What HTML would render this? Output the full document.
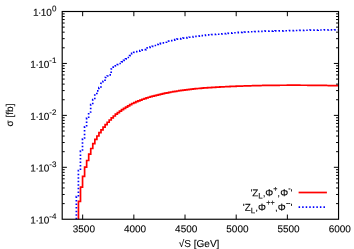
<!DOCTYPE html>
<html><head><meta charset="utf-8"><title>plot</title>
<style>
html,body{margin:0;padding:0;background:#fff;overflow:hidden;}
svg{display:block;will-change:transform;}
text{font-family:"Liberation Sans",sans-serif;font-size:10px;fill:#000;stroke:#000;stroke-width:0.1px;text-rendering:geometricPrecision;}
</style></head>
<body>
<svg width="354" height="249" viewBox="0 0 354 249">
<rect x="0" y="0" width="354" height="249" fill="#fff"/>
<path d="M78.45,219.25V201.40H80.50V187.20H82.55V176.40H84.60V167.10H86.65V160.50H88.70V154.10H90.74V148.50H92.79V143.70H94.84V139.40H96.89V136.00H98.94V132.60H100.99V129.93H103.04V127.22H105.09V124.64H107.14V122.24H109.19V120.00H111.23V117.92H113.28V115.99H115.33V114.21H117.38V112.57H119.43V111.06H121.48V109.65H123.53V108.32H125.58V107.04H127.63V105.78H129.68V104.58H131.72V103.52H133.77V102.59H135.82V101.72H137.87V100.87H139.92V100.04H141.97V99.26H144.02V98.55H146.07V97.89H148.12V97.27H150.17V96.68H152.21V96.12H154.26V95.58H156.31V95.07H158.36V94.57H160.41V94.10H162.46V93.64H164.51V93.21H166.56V92.79H168.61V92.40H170.66V92.02H172.70V91.66H174.75V91.31H176.80V90.98H178.85V90.67H180.90V90.37H182.95V90.09H185.00V89.82H187.05V89.57H189.10V89.33H191.15V89.10H193.19V88.89H195.24V88.68H197.29V88.49H199.34V88.31H201.39V88.14H203.44V87.97H205.49V87.82H207.54V87.67H209.59V87.54H211.64V87.40H213.68V87.28H215.73V87.16H217.78V87.05H219.83V86.94H221.88V86.83H223.93V86.73H225.98V86.63H228.03V86.54H230.08V86.45H232.13V86.36H234.17V86.28H236.22V86.20H238.27V86.13H240.32V86.05H242.37V85.98H244.42V85.92H246.47V85.86H248.52V85.80H250.57V85.74H252.62V85.69H254.66V85.64H256.71V85.59H258.76V85.55H260.81V85.50H262.86V85.47H264.91V85.43H266.96V85.40H269.01V85.37H271.06V85.34H273.11V85.32H275.15V85.30H277.20V85.28H279.25V85.26H281.30V85.25H283.35V85.24H285.40V85.23H287.45V85.22H289.50V85.22H291.55V85.22H293.60V85.22H295.64V85.22H297.69V85.22H299.74V85.23H301.79V85.24H303.84V85.25H305.89V85.26H307.94V85.28H309.99V85.30H312.04V85.32H314.08V85.34H316.13V85.36H318.18V85.38H320.23V85.41H322.28V85.44H324.33V85.47H326.38V85.50H328.43V85.53H330.48V85.57H332.53V85.60H334.57V85.64H336.62V85.68H338.55" fill="none" stroke="#ff0000" stroke-width="1.7" stroke-linejoin="miter"/>
<path d="M76.35,219.25V196.50H78.40V170.50H80.45V151.20H82.50V139.00H84.55V126.80H86.60V118.00H88.64V112.00H90.69V104.50H92.74V99.50H94.79V95.00H96.84V90.80H98.89V87.70H100.94V83.40H102.99V81.30H105.04V77.50H107.09V76.00H109.13V74.90H111.18V69.00H113.23V67.20H115.28V65.90H117.33V64.60H119.38V63.50H121.43V61.96H123.48V60.42H125.53V58.91H127.58V57.52H129.62V55.69H131.67V53.44H133.72V52.38H135.77V51.71H137.82V51.24H139.87V50.69H141.92V50.12H143.97V49.63H146.02V47.86H148.07V47.28H150.11V46.89H152.16V46.31H154.21V45.48H156.26V44.47H158.31V43.94H160.36V43.44H162.41V42.83H164.46V42.23H166.51V41.66H168.56V41.11H170.60V40.56H172.65V40.04H174.70V39.56H176.75V39.16H178.80V38.82H180.85V38.51H182.90V38.22H184.95V37.91H187.00V37.59H189.05V37.27H191.09V36.96H193.14V36.66H195.19V36.38H197.24V36.11H199.29V35.85H201.34V35.60H203.39V35.36H205.44V35.12H207.49V34.90H209.54V34.72H211.58V34.58H213.63V34.47H215.68V34.36H217.73V34.24H219.78V34.08H221.83V33.89H223.88V33.69H225.93V33.47H227.98V33.27H230.03V33.08H232.07V32.92H234.12V32.76H236.17V32.61H238.22V32.47H240.27V32.34H242.32V32.21H244.37V32.09H246.42V31.98H248.47V31.87H250.52V31.77H252.56V31.67H254.61V31.58H256.66V31.49H258.71V31.40H260.76V31.33H262.81V31.26H264.86V31.20H266.91V31.14H268.96V31.10H271.01V31.05H273.05V31.01H275.10V30.97H277.15V30.94H279.20V30.90H281.25V30.86H283.30V30.81H285.35V30.77H287.40V30.72H289.45V30.67H291.50V30.62H293.54V30.56H295.59V30.51H297.64V30.46H299.69V30.40H301.74V30.35H303.79V30.31H305.84V30.26H307.89V30.22H309.94V30.18H311.98V30.15H314.03V30.11H316.08V30.08H318.13V30.05H320.18V30.01H322.23V29.98H324.28V29.95H326.33V29.93H328.38V29.90H330.43V29.87H332.47V29.85H334.52V29.83H336.57V29.81H338.55" fill="none" stroke="#0000ff" stroke-width="1.7" stroke-dasharray="1.5 2.05"/>
<path d="M298.6,192.5H326.9" stroke="#ff0000" stroke-width="1.7" fill="none"/>
<path d="M298.6,207.2H326.9" stroke="#0000ff" stroke-width="1.7" stroke-dasharray="1.5 2.05" fill="none"/>
<path d="M82.67,219.25v-4.7M82.67,11.50v4.7M133.85,219.25v-4.7M133.85,11.50v4.7M185.02,219.25v-4.7M185.02,11.50v4.7M236.20,219.25v-4.7M236.20,11.50v4.7M287.37,219.25v-4.7M287.37,11.50v4.7M62.20,47.80h2.5M338.55,47.80h-2.5M62.20,38.66h2.5M338.55,38.66h-2.5M62.20,32.17h2.5M338.55,32.17h-2.5M62.20,27.13h2.5M338.55,27.13h-2.5M62.20,23.02h2.5M338.55,23.02h-2.5M62.20,19.55h2.5M338.55,19.55h-2.5M62.20,16.53h2.5M338.55,16.53h-2.5M62.20,13.88h2.5M338.55,13.88h-2.5M62.20,63.44h4.7M338.55,63.44h-4.7M62.20,99.74h2.5M338.55,99.74h-2.5M62.20,90.59h2.5M338.55,90.59h-2.5M62.20,84.11h2.5M338.55,84.11h-2.5M62.20,79.07h2.5M338.55,79.07h-2.5M62.20,74.96h2.5M338.55,74.96h-2.5M62.20,71.48h2.5M338.55,71.48h-2.5M62.20,68.47h2.5M338.55,68.47h-2.5M62.20,65.81h2.5M338.55,65.81h-2.5M62.20,115.38h4.7M338.55,115.38h-4.7M62.20,151.68h2.5M338.55,151.68h-2.5M62.20,142.53h2.5M338.55,142.53h-2.5M62.20,136.04h2.5M338.55,136.04h-2.5M62.20,131.01h2.5M338.55,131.01h-2.5M62.20,126.90h2.5M338.55,126.90h-2.5M62.20,123.42h2.5M338.55,123.42h-2.5M62.20,120.41h2.5M338.55,120.41h-2.5M62.20,117.75h2.5M338.55,117.75h-2.5M62.20,167.31h4.7M338.55,167.31h-4.7M62.20,203.62h2.5M338.55,203.62h-2.5M62.20,194.47h2.5M338.55,194.47h-2.5M62.20,187.98h2.5M338.55,187.98h-2.5M62.20,182.95h2.5M338.55,182.95h-2.5M62.20,178.83h2.5M338.55,178.83h-2.5M62.20,175.36h2.5M338.55,175.36h-2.5M62.20,172.35h2.5M338.55,172.35h-2.5M62.20,169.69h2.5M338.55,169.69h-2.5" fill="none" stroke="#000" stroke-width="1"/>
<rect x="62.2" y="11.5" width="276.35" height="207.75" fill="none" stroke="#000" stroke-width="1.15"/>
<text transform="rotate(0.03 83.87 232.3)" x="83.87" y="232.3" text-anchor="middle">3500</text>
<text transform="rotate(0.03 135.05 232.3)" x="135.05" y="232.3" text-anchor="middle">4000</text>
<text transform="rotate(0.03 186.22 232.3)" x="186.22" y="232.3" text-anchor="middle">4500</text>
<text transform="rotate(0.03 237.40 232.3)" x="237.40" y="232.3" text-anchor="middle">5000</text>
<text transform="rotate(0.03 288.57 232.3)" x="288.57" y="232.3" text-anchor="middle">5500</text>
<text transform="rotate(0.03 339.75 232.3)" x="339.75" y="232.3" text-anchor="middle">6000</text>
<text transform="rotate(0.03 56.4 15.80)" x="56.4" y="15.80" text-anchor="end">1<tspan dx="-0.5">·</tspan><tspan dx="-0.6">10</tspan><tspan font-size="8" dy="-4.6">0</tspan></text>
<text transform="rotate(0.03 56.4 67.74)" x="56.4" y="67.74" text-anchor="end">1<tspan dx="-0.5">·</tspan><tspan dx="-0.6">10</tspan><tspan font-size="8" dy="-4.6">-1</tspan></text>
<text transform="rotate(0.03 56.4 119.67)" x="56.4" y="119.67" text-anchor="end">1<tspan dx="-0.5">·</tspan><tspan dx="-0.6">10</tspan><tspan font-size="8" dy="-4.6">-2</tspan></text>
<text transform="rotate(0.03 56.4 171.61)" x="56.4" y="171.61" text-anchor="end">1<tspan dx="-0.5">·</tspan><tspan dx="-0.6">10</tspan><tspan font-size="8" dy="-4.6">-3</tspan></text>
<text transform="rotate(0.03 56.4 223.55)" x="56.4" y="223.55" text-anchor="end">1<tspan dx="-0.5">·</tspan><tspan dx="-0.6">10</tspan><tspan font-size="8" dy="-4.6">-4</tspan></text>
<text transform="rotate(0.03 199.1 246.9)" x="199.1" y="246.9" text-anchor="middle">√S [GeV]</text>
<text transform="translate(13.3,115) rotate(-90)" text-anchor="middle">σ [fb]</text>
<text transform="rotate(0.03 270 196)"><tspan x="250.4" y="196.20">'Z</tspan><tspan x="258.35" y="198.40" font-size="8">L</tspan><tspan x="262.8" y="196.20">,</tspan><tspan x="265.3" y="196.20">Φ</tspan><tspan x="273.2" y="191.20" font-size="7.2">+</tspan><tspan x="277.3" y="196.20">,</tspan><tspan x="280.3" y="196.20">Φ</tspan><tspan x="288.2" y="190.70" font-size="7.2">-</tspan><tspan x="290.6" y="196.20">'</tspan></text>
<text transform="rotate(0.03 270 210)"><tspan x="242.8" y="210.80">'Z</tspan><tspan x="250.85" y="213.30" font-size="8">L</tspan><tspan x="255.3" y="210.80">,</tspan><tspan x="258.0" y="210.80">Φ</tspan><tspan x="266.25" y="205.10" font-size="7.2">++</tspan><tspan x="275.1" y="210.80">,</tspan><tspan x="277.7" y="210.80">Φ</tspan><tspan x="286.0" y="205.30" font-size="7.2">-</tspan><tspan x="288.1" y="205.30" font-size="7.2">-</tspan><tspan x="290.6" y="210.80">'</tspan></text>
</svg>
</body></html>
